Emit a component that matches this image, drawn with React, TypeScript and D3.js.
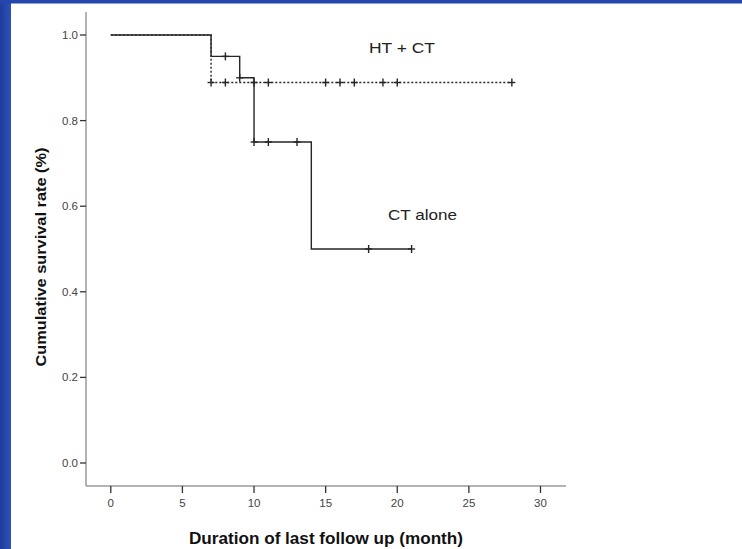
import React from "react";
import * as d3 from "d3";

const W = 742;
const H = 549;

// CT alone (solid) Kaplan-Meier steps
const ctAloneTimes = [0, 7, 9, 10, 14, 21];
const ctAloneSurv = [1.0, 0.95, 0.9, 0.75, 0.5, 0.5];
const ctAloneCensorTimes = [8, 9, 10, 11, 13, 18, 21];
const ctAloneCensorSurv = [0.95, 0.9, 0.75, 0.75, 0.75, 0.5, 0.5];

// HT + CT (dotted)
const htCtTimes = [0, 7, 28];
const htCtSurv = [1.0, 0.889, 0.889];
const htCtCensorTimes = [7, 8, 10, 11, 15, 16, 17, 19, 20, 28];
const htCtCensorSurv = [0.889, 0.889, 0.889, 0.889, 0.889, 0.889, 0.889, 0.889, 0.889, 0.889];

const xTicks = [0, 5, 10, 15, 20, 25, 30];
const yTicks = [0, 0.2, 0.4, 0.6, 0.8, 1.0];

export default function App() {
  const x = d3.scaleLinear().domain([0, 30]).range([110.8, 540.5]);
  const y = d3.scaleLinear().domain([0, 1]).range([463, 35]);

  const line = d3
    .line<[number, number]>()
    .x((d) => x(d[0]))
    .y((d) => y(d[1]))
    .curve(d3.curveStepAfter);

  const ctPts: [number, number][] = ctAloneTimes.map((t, i) => [t, ctAloneSurv[i]]);
  const htPts: [number, number][] = htCtTimes.map((t, i) => [t, htCtSurv[i]]);

  const axisColor = "#9a9a9a";
  const textColor = "#444";
  const lineColor = "#262626";
  const font = "Liberation Sans, Arial, sans-serif";

  const plus = (cx: number, cy: number, key: string) => (
    <g key={key} stroke={lineColor} strokeWidth={1.4}>
      <line x1={cx} x2={cx} y1={cy - 4} y2={cy + 4} />
      <line x1={cx - 3.5} x2={cx + 3.5} y1={cy} y2={cy} />
    </g>
  );

  const axisLeftX = 86;
  const axisBottomY = 486;

  return (
    <svg
      width={W}
      height={H}
      style={{ position: "absolute", left: 0, top: 0, display: "block" }}
      fontFamily={font}
    >
      <defs>
        <linearGradient id="leftBand" x1="0" x2="1" y1="0" y2="0">
          <stop offset="0" stopColor="#1d3c9c" />
          <stop offset="1" stopColor="#2d52b8" />
        </linearGradient>
      </defs>
      <rect x={0} y={0} width={W} height={H} fill="#ffffff" />
      <rect x={0} y={0} width={11} height={H} fill="url(#leftBand)" />
      <rect x={0} y={0} width={W} height={3.5} fill="#2446ad" />

      {/* axes lines */}
      <line x1={axisLeftX} x2={axisLeftX} y1={12} y2={axisBottomY} stroke={axisColor} strokeWidth={1.5} />
      <line x1={axisLeftX} x2={566} y1={axisBottomY} y2={axisBottomY} stroke={axisColor} strokeWidth={1.5} />

      {/* y ticks */}
      {yTicks.map((t) => (
        <g key={"y" + t}>
          <line x1={axisLeftX - 6} x2={axisLeftX} y1={y(t)} y2={y(t)} stroke="#333" strokeWidth={1.3} />
          <text
            x={axisLeftX - 8}
            y={y(t)}
            textAnchor="end"
            dominantBaseline="central"
            fontSize={11.5}
            fill={textColor}
          >
            {d3.format(".1f")(t)}
          </text>
        </g>
      ))}

      {/* x ticks */}
      {xTicks.map((t) => (
        <g key={"x" + t}>
          <line x1={x(t)} x2={x(t)} y1={axisBottomY} y2={axisBottomY + 7} stroke="#333" strokeWidth={1.3} />
          <text
            x={x(t)}
            y={axisBottomY + 17}
            textAnchor="middle"
            dominantBaseline="central"
            fontSize={11.5}
            fill={textColor}
          >
            {t}
          </text>
        </g>
      ))}

      {/* survival curves */}
      <path d={line(ctPts) || ""} fill="none" stroke={lineColor} strokeWidth={1.4} />
      <path
        d={line(htPts) || ""}
        fill="none"
        stroke={lineColor}
        strokeWidth={1.4}
        strokeDasharray="2,2"
      />

      {ctAloneCensorTimes.map((t, i) => plus(x(t), y(ctAloneCensorSurv[i]), "c" + i))}
      {htCtCensorTimes.map((t, i) => plus(x(t), y(htCtCensorSurv[i]), "h" + i))}

      {/* labels */}
      <text
        x={402}
        y={47}
        textAnchor="middle"
        dominantBaseline="central"
        fontSize={15}
        textLength={66}
        lengthAdjust="spacingAndGlyphs"
        fill="#222"
      >
        HT + CT
      </text>
      <text
        x={422.5}
        y={214}
        textAnchor="middle"
        dominantBaseline="central"
        fontSize={15}
        textLength={69}
        lengthAdjust="spacingAndGlyphs"
        fill="#222"
      >
        CT alone
      </text>

      <text
        transform={`translate(40, 257) rotate(-90)`}
        textAnchor="middle"
        dominantBaseline="central"
        fontSize={15}
        fontWeight="bold"
        textLength={219}
        lengthAdjust="spacingAndGlyphs"
        fill="#111"
      >
        Cumulative survival rate (%)
      </text>
      <text
        x={326}
        y={538}
        textAnchor="middle"
        dominantBaseline="central"
        fontSize={16}
        fontWeight="bold"
        textLength={274}
        lengthAdjust="spacingAndGlyphs"
        fill="#111"
      >
        Duration of last follow up (month)
      </text>
    </svg>
  );
}
